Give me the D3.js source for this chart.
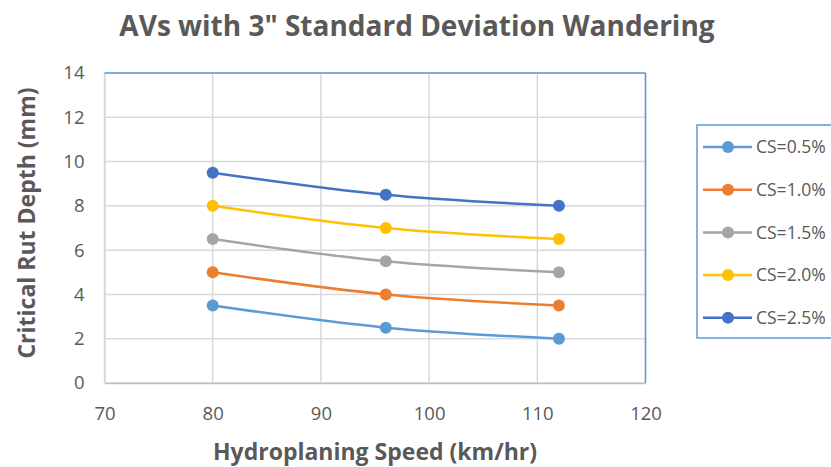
<!DOCTYPE html>
<html><head><meta charset="utf-8">
<script src="https://cdn.jsdelivr.net/npm/d3@7"></script>
<style>body{margin:0;background:#fff;} svg{display:block;font-family:"Open Sans",sans-serif;}</style>
</head><body>
<svg id="chart" width="831" height="467"></svg>
<script>
const speeds = [80, 96, 112];
const seriesNames = ["CS=0.5%", "CS=1.0%", "CS=1.5%", "CS=2.0%", "CS=2.5%"];
const cs05 = [3.5, 2.5, 2.0];
const cs10 = [5.0, 4.0, 3.5];
const cs15 = [6.5, 5.5, 5.0];
const cs20 = [8.0, 7.0, 6.5];
const cs25 = [9.5, 8.5, 8.0];
const seriesValues = [cs05, cs10, cs15, cs20, cs25];
const colors = ["#5B9BD5", "#ED7D31", "#A5A5A5", "#FFC000", "#4472C4"];
const xTicks = [70, 80, 90, 100, 110, 120];
const yTicks = [0, 2, 4, 6, 8, 10, 12, 14];

const svg = d3.select("#chart");
const L = 104.5, R = 645.5, T = 73, B = 383;
const x = d3.scaleLinear().domain([70, 120]).range([L, R]);
const y = d3.scaleLinear().domain([0, 14]).range([B, T]);
const textColor = "#595959";

// gridlines
svg.append("g").selectAll("line.h").data(yTicks).join("line")
  .attr("x1", L).attr("x2", R).attr("y1", d => y(d)).attr("y2", d => y(d))
  .attr("stroke", "#d9d9d9").attr("stroke-width", 1.5);
svg.append("g").selectAll("line.v").data(xTicks).join("line")
  .attr("y1", T).attr("y2", B).attr("x1", d => x(d)).attr("x2", d => x(d))
  .attr("stroke", "#d9d9d9").attr("stroke-width", 1.5);

// plot area border: blue top/right
svg.append("line").attr("x1", L).attr("x2", R).attr("y1", T).attr("y2", T).attr("stroke", "#5B9BD5").attr("stroke-width", 1.5);
svg.append("line").attr("x1", R).attr("x2", R).attr("y1", T).attr("y2", B).attr("stroke", "#5B9BD5").attr("stroke-width", 1.5);

// axes
const xAxis = svg.append("g").attr("transform", `translate(0,${B})`)
  .call(d3.axisBottom(x).tickValues(xTicks).tickSize(0).tickPadding(24));
const yAxis = svg.append("g").attr("transform", `translate(${L},0)`)
  .call(d3.axisLeft(y).tickValues(yTicks).tickSize(0).tickPadding(20));
[xAxis, yAxis].forEach(a => {
  a.select(".domain").attr("stroke", "#bfbfbf").attr("stroke-width", 1.5);
  a.selectAll("text").attr("fill", textColor).style("font-size", "18.5px").style("font-family", "Open Sans, sans-serif");
});
yAxis.select(".domain").attr("stroke", "#d9d9d9");

// lines
const line = d3.line().x((d, i) => x(speeds[i])).y(d => y(d)).curve(d3.curveCatmullRom.alpha(0.5));
seriesValues.forEach((vals, k) => {
  svg.append("path").datum(vals).attr("d", line).attr("fill", "none")
    .attr("stroke", colors[k]).attr("stroke-width", 2.5);
  svg.append("g").selectAll("circle").data(vals).join("circle")
    .attr("cx", (d, i) => x(speeds[i])).attr("cy", d => y(d)).attr("r", 6)
    .attr("fill", colors[k]);
});

// title
svg.append("text").attr("x", 417).attr("y", 36).attr("text-anchor", "middle")
  .attr("fill", textColor).style("font-size", "28px").style("font-weight", "bold")
  .text('AVs with 3" Standard Deviation Wandering');

// axis titles
svg.append("text").attr("x", 375).attr("y", 460).attr("text-anchor", "middle")
  .attr("fill", textColor).style("font-size", "23px").style("font-weight", "bold")
  .text("Hydroplaning Speed (km/hr)");
svg.append("text").attr("transform", "translate(35,223) rotate(-90)").attr("text-anchor", "middle")
  .attr("fill", textColor).style("font-size", "23px").style("font-weight", "bold")
  .text("Critical Rut Depth (mm)");

// legend
svg.append("rect").attr("x", 697).attr("y", 125).attr("width", 150).attr("height", 213)
  .attr("fill", "#fff").attr("stroke", "#5B9BD5").attr("stroke-width", 1.5);
const lg = svg.append("g").selectAll("g").data(seriesNames).join("g")
  .attr("transform", (d, i) => `translate(0,${147 + i * 42.7})`);
lg.append("line").attr("x1", 703).attr("x2", 752).attr("stroke", (d, i) => colors[i]).attr("stroke-width", 2.5);
lg.append("circle").attr("cx", 728).attr("r", 6).attr("fill", (d, i) => colors[i]);
lg.append("text").attr("x", 756).attr("dy", "0.35em").attr("fill", textColor)
  .style("font-size", "17.5px").text(d => d);
</script>
</body></html>
